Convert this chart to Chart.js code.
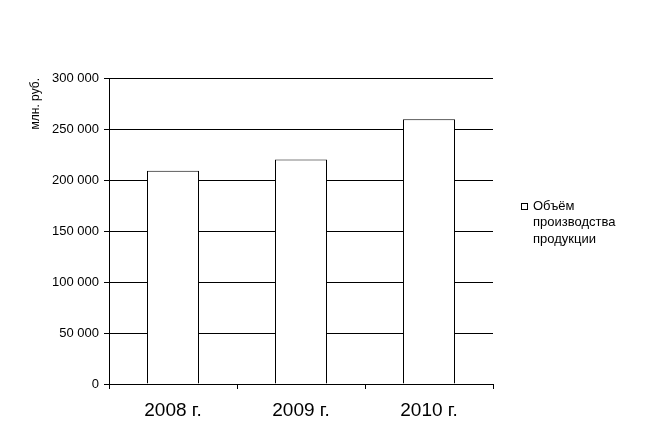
<!DOCTYPE html>
<html>
<head>
<meta charset="utf-8">
<script src="https://cdn.jsdelivr.net/npm/chart.js@4/dist/chart.umd.min.js"></script>
<style>
  html, body { margin: 0; padding: 0; background: #fff; }
  #wrap { width: 645px; height: 444px; }
</style>
</head>
<body>
<div id="wrap"><canvas id="chart"></canvas></div>
<script>
const years = ["2008 г.", "2009 г.", "2010 г."];
const volume = [209000, 220000, 259500];
const seriesLabel = "Объём производства продукции";
const legendLines = ["Объём", "производства", "продукции"];
const yTitle = "млн. руб.";
const yMax = 300000;
const yStep = 50000;

const FONT = "'Liberation Sans', Arial, sans-serif";

// формат "300 000"
function fmt(v) {
  return String(v).replace(/\B(?=(\d{3})+(?!\d))/g, " ");
}

// легенда справа, текст в три строки
const sideLegend = {
  id: "sideLegend",
  afterDraw(chart) {
    const ctx = chart.ctx;
    ctx.save();
    ctx.fillStyle = "#fff";
    ctx.strokeStyle = "#000";
    ctx.lineWidth = 1;
    ctx.fillRect(521.5, 203.5, 6, 6);
    ctx.strokeRect(521.5, 203.5, 6, 6);
    ctx.fillStyle = "#000";
    ctx.font = "13px " + FONT;
    ctx.textBaseline = "middle";
    legendLines.forEach((line, i) => {
      ctx.fillText(line, 533, 206 + i * 16.5);
    });
    ctx.restore();
  },
};

new Chart(document.getElementById("chart"), {
  type: "bar",
  data: {
    labels: years,
    datasets: [{
      label: seriesLabel,
      data: volume,
      backgroundColor: "#fff",
      borderColor: "#000",
      borderWidth: 1,
      barThickness: 52,
      inflateAmount: 0,
    }],
  },
  options: {
    responsive: true,
    maintainAspectRatio: false,
    animation: false,
    layout: { padding: { left: 0, top: 78, right: 152, bottom: 0 } },
    plugins: {
      legend: { display: false },
      tooltip: { enabled: false },
    },
    scales: {
      x: {
        afterFit(scale) { scale.height = 60; },
        border: { display: true, color: "#000", width: 1 },
        grid: {
          offset: true,
          drawOnChartArea: false,
          drawTicks: true,
          tickLength: 5,
          color: "#000",
        },
        ticks: {
          color: "#000",
          padding: 10,
          font: { family: FONT, size: 19 },
        },
      },
      y: {
        min: 0,
        max: yMax,
        afterFit(scale) { scale.width = 109; },
        border: { display: true, color: "#000", width: 1 },
        grid: {
          color: "#000",
          lineWidth: 1,
          drawTicks: true,
          tickLength: 5,
        },
        ticks: {
          stepSize: yStep,
          color: "#000",
          padding: 5,
          font: { family: FONT, size: 13 },
          callback: (v) => fmt(v),
        },
        title: {
          display: true,
          text: yTitle,
          align: "end",
          color: "#000",
          padding: { top: 28, bottom: 0 },
          font: { family: FONT, size: 12 },
        },
      },
    },
  },
  plugins: [sideLegend],
});
</script>
</body>
</html>
